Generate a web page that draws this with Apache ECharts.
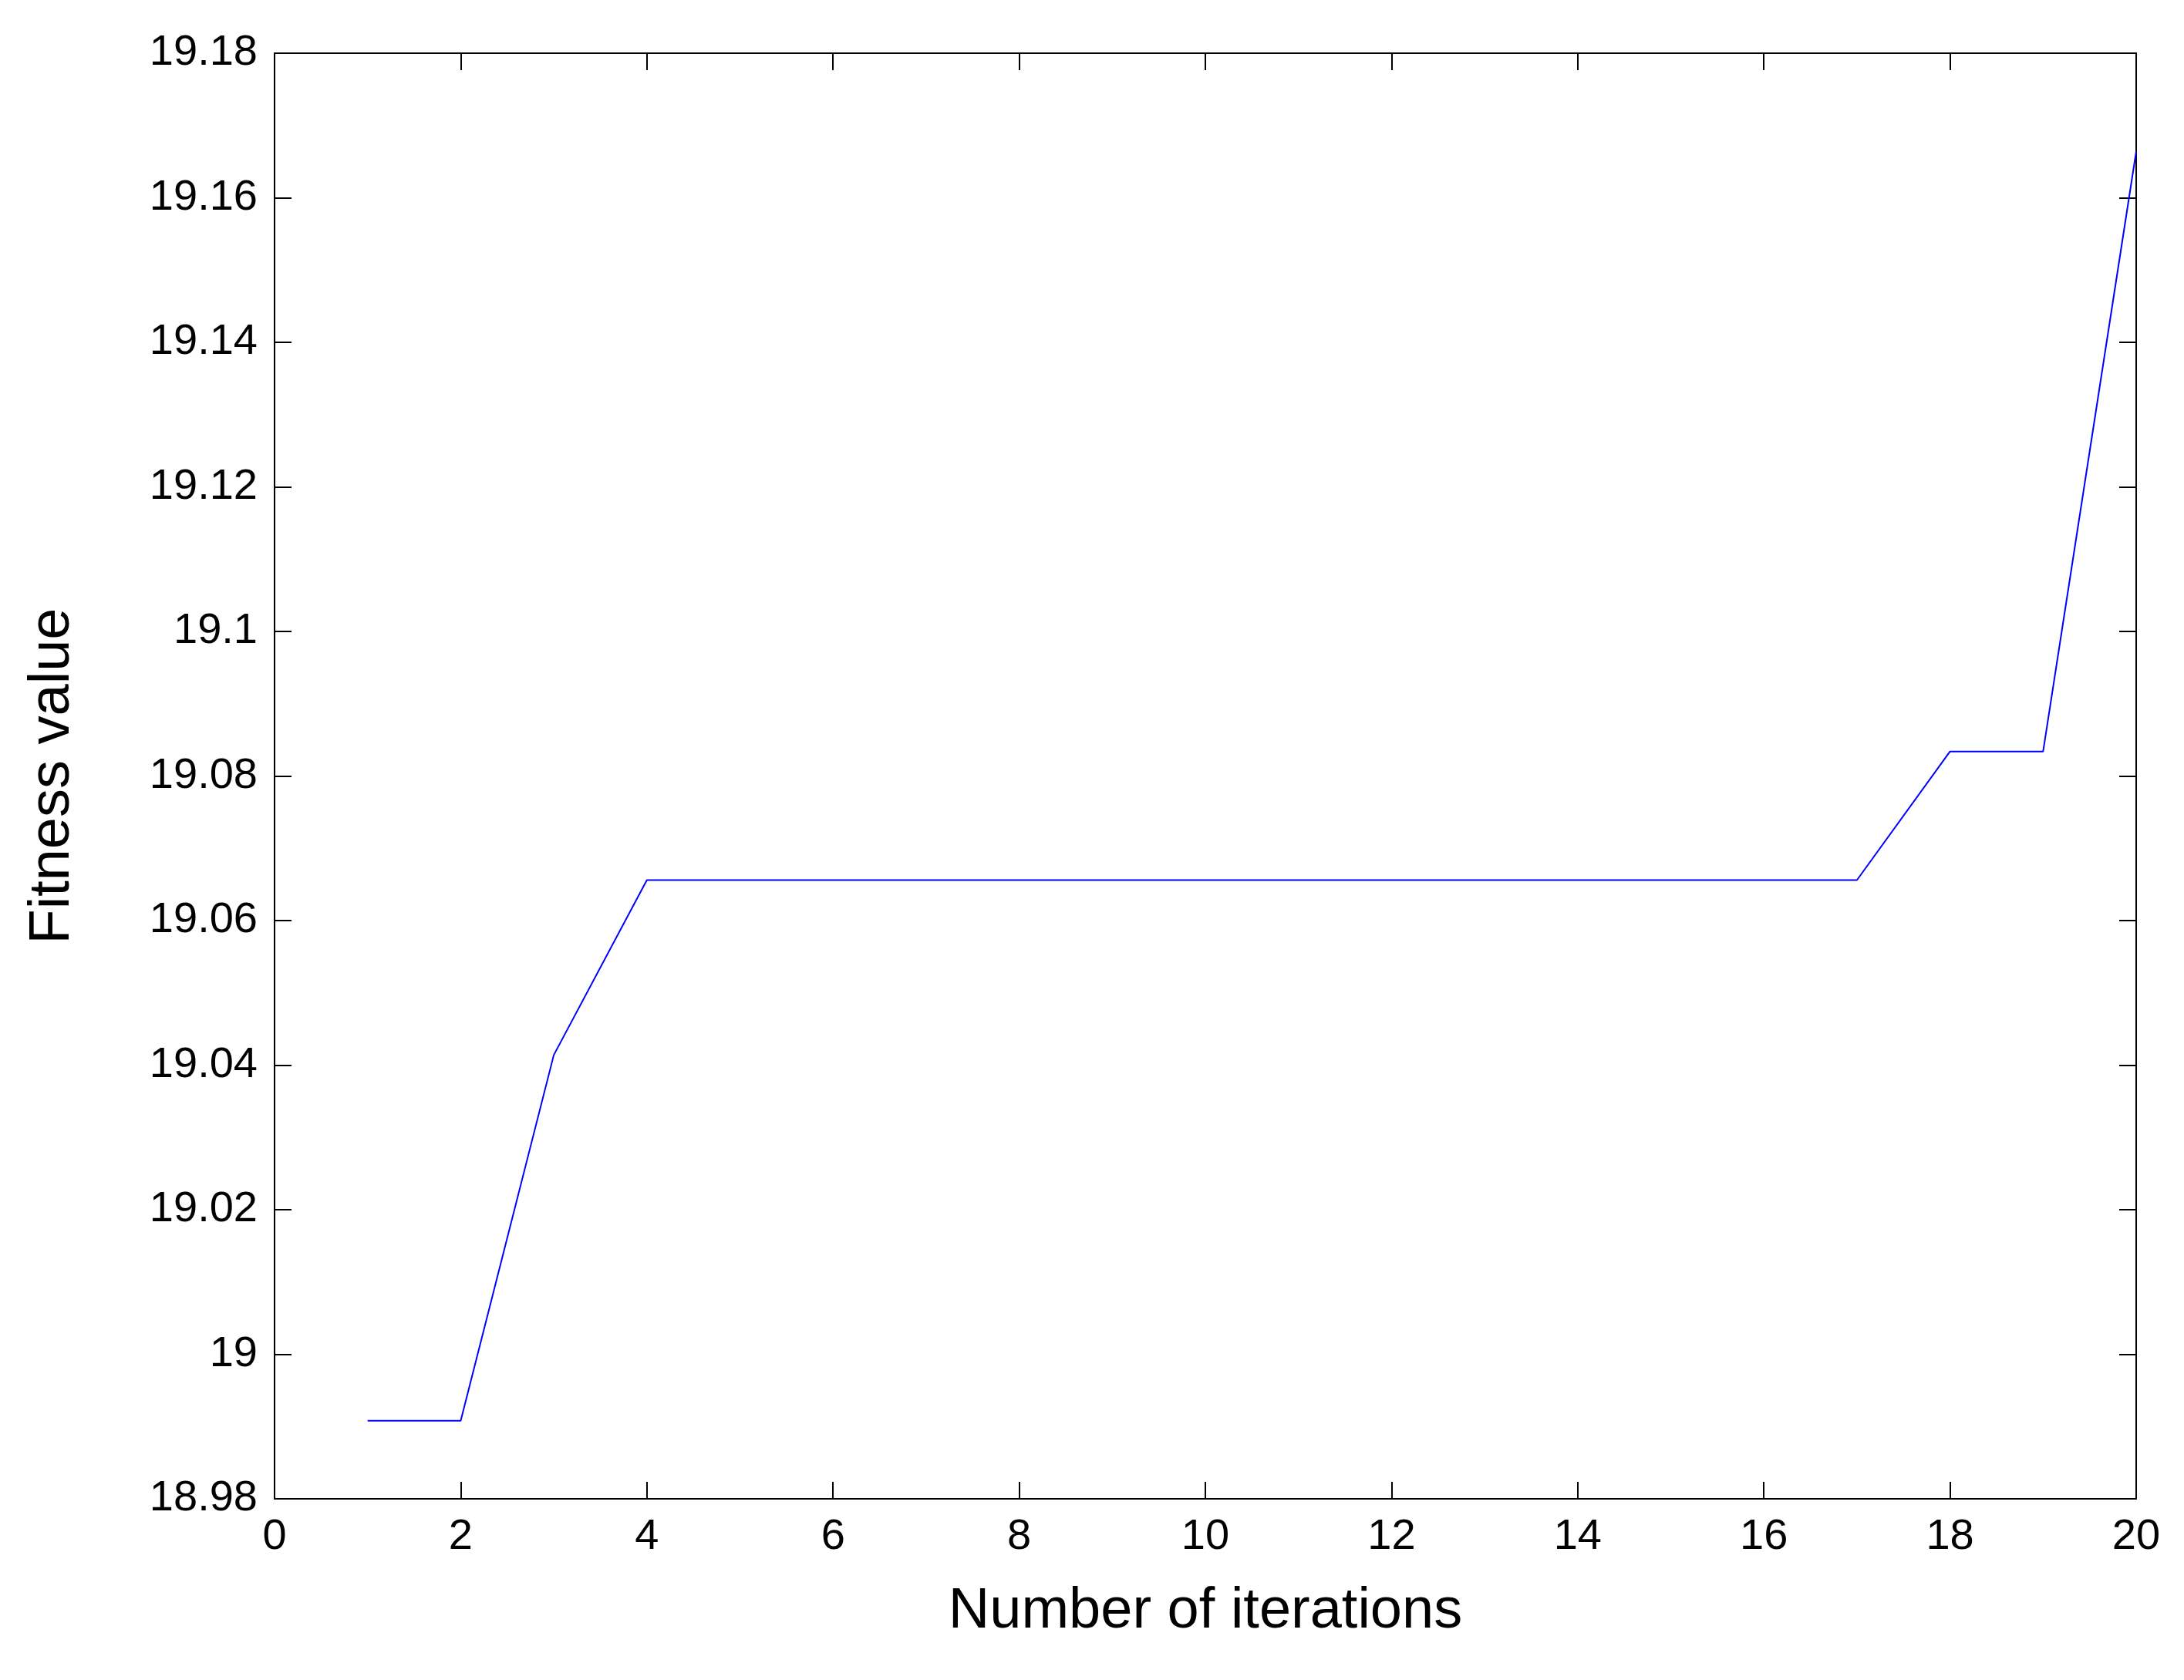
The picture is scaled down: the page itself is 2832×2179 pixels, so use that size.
<!DOCTYPE html>
<html>
<head>
<meta charset="utf-8">
<script src="https://cdn.jsdelivr.net/npm/echarts@6/dist/echarts.min.js"></script>
<style>html,body{margin:0;background:#fff}#c{width:2832px;height:2179px}</style>
</head>
<body>
<div id="c"></div>
<script>
// 迭代次数与适应度
const iterations = [1,2,3,4,5,6,7,8,9,10,11,12,13,14,15,16,17,18,19,20];
const fitness = [18.9908,18.9908,19.0414,19.0656,19.0656,19.0656,19.0656,19.0656,19.0656,19.0656,
                 19.0656,19.0656,19.0656,19.0656,19.0656,19.0656,19.0656,19.0834,19.0834,19.1664];

const font = 'Arial, "Liberation Sans", sans-serif';
const axisBase = {
  axisLine: {show: true, onZero: false, lineStyle: {color: '#000', width: 2}},
  axisTick: {show: true, inside: true, length: 22, lineStyle: {color: '#000', width: 2}},
  splitLine: {show: false}
};
const option = {
  backgroundColor: '#fff',
  animation: false,
  grid: {left: 356, right: 62, top: 69, bottom: 235},
  xAxis: [
    Object.assign({}, axisBase, {
      type: 'value', min: 0, max: 20, interval: 2, position: 'bottom',
      name: 'Number of iterations', nameLocation: 'middle', nameGap: 110,
      nameTextStyle: {fontFamily: font, fontSize: 74, color: '#000'},
      axisLabel: {fontFamily: font, fontSize: 56, color: '#000', margin: 22}
    }),
    Object.assign({}, axisBase, {
      type: 'value', min: 0, max: 20, interval: 2, position: 'top', axisLabel: {show: false}
    })
  ],
  yAxis: [
    Object.assign({}, axisBase, {
      type: 'value', min: 18.98, max: 19.18, interval: 0.02, position: 'left',
      name: 'Fitness value', nameLocation: 'middle', nameGap: 250,
      nameTextStyle: {fontFamily: font, fontSize: 74, color: '#000'},
      axisLabel: {fontFamily: font, fontSize: 56, color: '#000', margin: 22,
        formatter: v => String(+v.toFixed(2))}
    }),
    Object.assign({}, axisBase, {
      type: 'value', min: 18.98, max: 19.18, interval: 0.02, position: 'right', axisLabel: {show: false}
    })
  ],
  series: [{
    type: 'line',
    data: iterations.map((x, i) => [x, fitness[i]]),
    symbol: 'none',
    lineStyle: {color: '#0000ff', width: 2}
  }]
};
const myChart = echarts.init(document.getElementById('c'));
myChart.setOption(option);
</script>
</body>
</html>
